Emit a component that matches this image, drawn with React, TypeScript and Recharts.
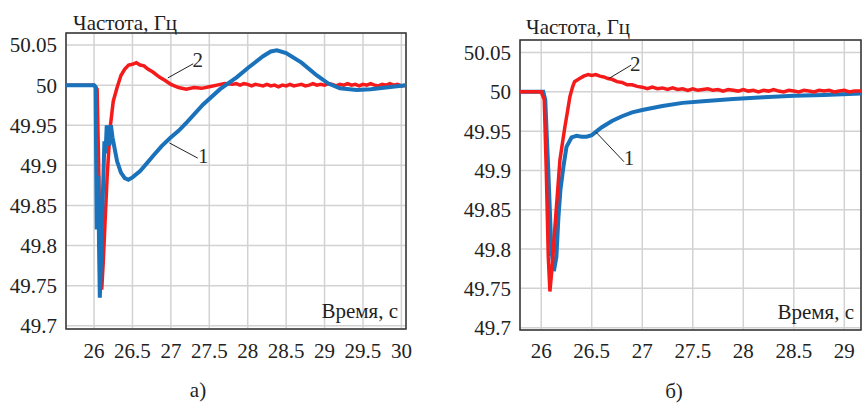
import React from "react";
import {
  LineChart,
  Line,
  XAxis,
  YAxis,
  CartesianGrid,
  ReferenceArea,
  ReferenceLine,
  ReferenceDot,
} from "recharts";

const FONT = '"Liberation Serif", "Times New Roman", serif';
const FS = 21;

// ---- chart a) ----
const aXTicks = [26, 26.5, 27, 27.5, 28, 28.5, 29, 29.5, 30];
const aYTicks = [49.7, 49.75, 49.8, 49.85, 49.9, 49.95, 50, 50.05];
const aXDomain = [25.635, 30.06];
const aYDomain = [49.696, 50.065];

// curve 1 (blue)
const aBlue: [number, number][] = [
  [25.635, 50], [26.0, 50], [26.02, 49.998], [26.035, 49.82], [26.045, 49.85],
  [26.056, 49.887], [26.065, 49.8], [26.075, 49.735], [26.09, 49.78], [26.105, 49.835],
  [26.12, 49.88], [26.135, 49.93], [26.15, 49.915], [26.165, 49.95], [26.18, 49.93],
  [26.2, 49.925], [26.22, 49.95], [26.24, 49.935], [26.27, 49.92], [26.3, 49.905],
  [26.35, 49.891], [26.4, 49.884], [26.447, 49.882], [26.5, 49.885], [26.6, 49.893],
  [26.7, 49.904], [26.77, 49.912], [26.88, 49.924], [26.99, 49.934], [27.1, 49.943],
  [27.21, 49.954], [27.42, 49.976], [27.64, 49.995], [27.86, 50.01], [28.01, 50.022],
  [28.2, 50.036], [28.3, 50.042], [28.38, 50.0435], [28.5, 50.04], [28.7, 50.028],
  [28.9, 50.012], [29.05, 50.002], [29.2, 49.996], [29.42, 49.994], [29.6, 49.995],
  [29.8, 49.997], [30.06, 50.0],
];

// curve 2 (red)
const aRed: [number, number][] = [
  [25.635, 50], [26.0, 50], [26.04, 49.995], [26.06, 49.9], [26.08, 49.79],
  [26.1, 49.745], [26.12, 49.78], [26.14, 49.822], [26.17, 49.885], [26.21, 49.947],
  [26.25, 49.98], [26.3, 49.997], [26.35, 50.012], [26.4, 50.02], [26.45, 50.025],
  [26.5, 50.026], [26.55, 50.028], [26.6, 50.025], [26.65, 50.024], [26.7, 50.02],
  [26.77, 50.016], [26.85, 50.01], [26.92, 50.006], [27.0, 50.001], [27.1, 49.997],
  [27.2, 49.995], [27.3, 49.997], [27.4, 49.996], [27.5, 49.998], [27.6, 50.0],
  [27.7, 50.002], [27.8, 50.001], [27.85, 50.002], [27.9, 50.0], [27.95, 50.002],
  [28.0, 50.001], [28.05, 49.999], [28.1, 50.001], [28.15, 50.0], [28.2, 49.999],
  [28.25, 50.001], [28.3, 49.999], [28.35, 50.0], [28.4, 49.998], [28.45, 50.0],
  [28.5, 49.999], [28.55, 50.001], [28.6, 49.999], [28.65, 50.0], [28.7, 50.001],
  [28.75, 49.999], [28.8, 50.0], [28.85, 50.002], [28.9, 50.0], [28.95, 50.001],
  [29.0, 50.0], [29.05, 50.002], [29.1, 50.001], [29.15, 49.999], [29.2, 50.001],
  [29.25, 50.0], [29.3, 50.002], [29.35, 50.0], [29.4, 50.001], [29.45, 49.999],
  [29.5, 50.001], [29.55, 50.0], [29.6, 50.002], [29.65, 50.0], [29.7, 49.999],
  [29.75, 50.001], [29.8, 50.0], [29.85, 50.002], [29.9, 50.0], [29.95, 50.001],
  [30.0, 49.999], [30.06, 50.0],
];

// ---- chart б) ----
const bXTicks = [26, 26.5, 27, 27.5, 28, 28.5, 29];
const bYTicks = [49.7, 49.75, 49.8, 49.85, 49.9, 49.95, 50, 50.05];
const bXDomain = [25.79, 29.165];
const bYDomain = [49.697, 50.066];

const bBlue: [number, number][] = [
  [25.79, 50], [26.02, 50], [26.04, 49.99], [26.07, 49.9], [26.1, 49.8],
  [26.125, 49.772], [26.15, 49.79], [26.17, 49.84], [26.19, 49.875], [26.22, 49.905],
  [26.25, 49.93], [26.3, 49.942], [26.35, 49.944], [26.4, 49.943], [26.45, 49.943],
  [26.5, 49.945], [26.55, 49.95], [26.6, 49.955], [26.7, 49.963], [26.8, 49.969],
  [26.9, 49.974], [27.0, 49.977], [27.2, 49.982], [27.4, 49.986], [27.6, 49.988],
  [27.9, 49.991], [28.2, 49.993], [28.5, 49.995], [28.8, 49.996], [29.165, 49.998],
];

const bRed: [number, number][] = [
  [25.79, 50], [26.0, 50], [26.03, 49.99], [26.05, 49.9], [26.07, 49.79],
  [26.086, 49.746], [26.11, 49.78], [26.136, 49.829], [26.16, 49.87], [26.185, 49.913],
  [26.21, 49.935], [26.235, 49.956], [26.26, 49.975], [26.284, 49.994], [26.31, 50.006],
  [26.33, 50.013], [26.38, 50.017], [26.42, 50.02], [26.465, 50.022], [26.5, 50.021],
  [26.54, 50.022], [26.58, 50.02], [26.62, 50.019], [26.66, 50.017], [26.7, 50.016],
  [26.75, 50.013], [26.8, 50.012], [26.85, 50.009], [26.9, 50.009], [26.95, 50.007],
  [27.0, 50.006], [27.05, 50.004], [27.1, 50.006], [27.15, 50.004], [27.2, 50.005],
  [27.25, 50.003], [27.3, 50.005], [27.35, 50.003], [27.4, 50.004], [27.45, 50.002],
  [27.5, 50.004], [27.55, 50.002], [27.6, 50.003], [27.65, 50.004], [27.7, 50.002],
  [27.75, 50.003], [27.8, 50.001], [27.85, 50.003], [27.9, 50.002], [27.95, 50.001],
  [28.0, 50.003], [28.05, 50.001], [28.1, 50.002], [28.15, 50.0], [28.2, 50.002],
  [28.25, 50.001], [28.3, 50.003], [28.35, 50.001], [28.4, 50.0], [28.45, 50.002],
  [28.5, 50.001], [28.55, 50.0], [28.6, 50.002], [28.65, 50.001], [28.7, 50.0],
  [28.75, 50.002], [28.8, 50.001], [28.85, 50.002], [28.9, 50.0], [28.95, 50.001],
  [29.0, 50.002], [29.05, 50.0], [29.1, 50.001], [29.165, 50.001],
];

// curve number labels: leader start, leader end, text position
const aLabels = [
  { text: "2", from: [26.96, 50.009], to: [27.29, 50.0266], at: [27.35, 50.032] },
  { text: "1", from: [26.98, 49.928], to: [27.35, 49.909], at: [27.42, 49.912] },
];
const bLabels = [
  { text: "2", from: [26.67, 50.017], to: [26.89, 50.034], at: [26.93, 50.036] },
  { text: "1", from: [26.54, 49.949], to: [26.82, 49.911], at: [26.87, 49.916] },
];

const BLUE = "#1a72bb";
const RED = "#f51b1b";

const toRows = (pts: [number, number][]) => pts.map(([t, f]) => ({ t, f }));

const XTick = ({ x, y, payload }: any) => (
  <text x={x} y={y} dy="0.71em" textAnchor="middle" style={{ fontFamily: FONT, fontSize: FS }} fill="#222">
    {String(payload.value)}
  </text>
);
const YTick = ({ x, y, payload }: any) => (
  <text x={x} y={y} dy="0.355em" textAnchor="end" style={{ fontFamily: FONT, fontSize: FS }} fill="#222">
    {String(payload.value)}
  </text>
);

type PanelProps = {
  xTicks: number[];
  yTicks: number[];
  xDomain: number[];
  yDomain: number[];
  blue: [number, number][];
  red: [number, number][];
  labels: typeof aLabels;
  blueOnTop: boolean;
  margin: { top: number; right: number; bottom: number; left: number };
  yWidth: number;
  xHeight: number;
  xTickMargin: number;
};

function Panel(p: PanelProps) {
  const blueLine = (
    <Line
      key="blue"
      data={toRows(p.blue)}
      dataKey="f"
      type="linear"
      stroke={BLUE}
      strokeWidth={4}
      dot={false}
      isAnimationActive={false}
    />
  );
  const redLine = (
    <Line
      key="red"
      data={toRows(p.red)}
      dataKey="f"
      type="linear"
      stroke={RED}
      strokeWidth={3.5}
      dot={false}
      isAnimationActive={false}
    />
  );
  return (
    <LineChart width={431} height={406} margin={p.margin}>
      <CartesianGrid stroke="#d2d2d2" strokeWidth={1.5} />
      <XAxis
        dataKey="t"
        type="number"
        domain={p.xDomain}
        ticks={p.xTicks}
        allowDataOverflow
        tick={<XTick />}
        tickLine={false}
        tickSize={0}
        tickMargin={p.xTickMargin}
        axisLine={false}
        height={p.xHeight}
      />
      <YAxis
        type="number"
        domain={p.yDomain}
        ticks={p.yTicks}
        allowDataOverflow
        tick={<YTick />}
        tickLine={false}
        tickSize={0}
        tickMargin={9}
        axisLine={false}
        width={p.yWidth}
      />
      {p.blueOnTop ? [redLine, blueLine] : [blueLine, redLine]}
      {p.labels.map((l) => (
        <ReferenceLine
          key={"l" + l.text}
          segment={[
            { x: l.from[0], y: l.from[1] },
            { x: l.to[0], y: l.to[1] },
          ]}
          stroke="#222"
          strokeWidth={1}
        />
      ))}
      {p.labels.map((l) => (
        <ReferenceDot
          key={"d" + l.text}
          x={l.at[0]}
          y={l.at[1]}
          r={0}
          stroke="none"
          label={{
            value: l.text,
            position: "center",
            fontSize: FS,
            fontFamily: FONT,
            fill: "#2a2a2a",
          }}
        />
      ))}
      <ReferenceArea
        x1={p.xDomain[0]}
        x2={p.xDomain[1]}
        y1={p.yDomain[0]}
        y2={p.yDomain[1]}
        fill="none"
        fillOpacity={0}
        stroke="#333"
        strokeWidth={1.5}
      />
    </LineChart>
  );
}

export default function App() {
  const txt = { style: { fontFamily: FONT, fontSize: FS }, fill: "#1e1e1e" };
  return (
    <div
      style={{
        position: "absolute",
        left: 0,
        top: 0,
        width: 862,
        height: 406,
        background: "#fff",
        overflow: "hidden",
      }}
    >
      <div style={{ position: "absolute", left: 0, top: 0 }}>
        <Panel
          xTicks={aXTicks}
          yTicks={aYTicks}
          xDomain={aXDomain}
          yDomain={aYDomain}
          blue={aBlue}
          red={aRed}
          labels={aLabels}
          blueOnTop
          margin={{ top: 33, right: 25, bottom: 47, left: 0 }}
          yWidth={66}
          xHeight={30}
          xTickMargin={14}
        />
      </div>
      <div style={{ position: "absolute", left: 431, top: 0 }}>
        <Panel
          xTicks={bXTicks}
          yTicks={bYTicks}
          xDomain={bXDomain}
          yDomain={bYDomain}
          blue={bBlue}
          red={bRed}
          labels={bLabels}
          blueOnTop={false}
          margin={{ top: 40, right: 1, bottom: 45, left: 0 }}
          yWidth={89}
          xHeight={31}
          xTickMargin={13}
        />
      </div>
      <svg
        width={862}
        height={406}
        style={{ position: "absolute", left: 0, top: 0, pointerEvents: "none" }}
      >
        <text x={73} y={30} {...txt}>Частота, Гц</text>
        <text x={398} y={318} textAnchor="end" {...txt}>Время, с</text>
        <text x={198} y={397} textAnchor="middle" {...txt}>а)</text>
        <text x={526} y={34} {...txt}>Частота, Гц</text>
        <text x={854} y={319} textAnchor="end" {...txt}>Время, с</text>
        <text x={674} y={398} textAnchor="middle" {...txt}>б)</text>
      </svg>
    </div>
  );
}
